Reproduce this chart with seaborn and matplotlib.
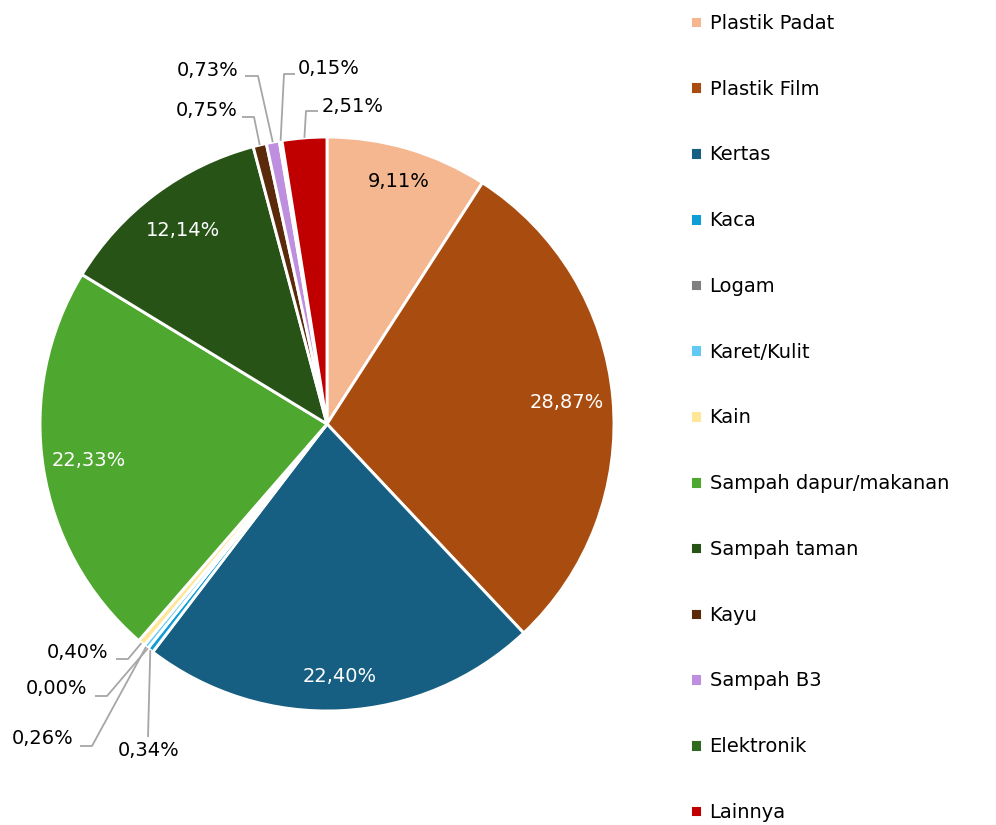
import numpy as np
import matplotlib.pyplot as plt
import seaborn as sns

# Data
categories = ["Plastik Padat", "Plastik Film", "Kertas", "Kaca", "Logam",
              "Karet/Kulit", "Kain", "Sampah dapur/makanan", "Sampah taman",
              "Kayu", "Sampah B3", "Elektronik", "Lainnya"]
shares = [9.11, 28.87, 22.40, 0.34, 0.00, 0.26, 0.40, 22.33, 12.14,
          0.75, 0.73, 0.15, 2.51]
colors = ["#F4B790", "#A94C0F", "#175F82", "#0E9ED5", "#7F7F7F",
          "#60CAF3", "#FFE699", "#4EA72E", "#275317", "#5B2A0A",
          "#BF8FDF", "#2F6A20", "#C00000"]

sns.set_style("white")
plt.rcParams["font.family"] = ["DejaVu Sans"]
plt.rcParams["text.color"] = "black"

W, H = 996, 825
CX, CY, R = 327, 424, 287

fig = plt.figure(figsize=(W / 100, H / 100), dpi=100)
ax = fig.add_axes([(CX - R) / W, (H - CY - R) / H, 2 * R / W, 2 * R / H])

wedges, _ = ax.pie(shares, colors=colors, startangle=90, counterclock=False,
                   wedgeprops=dict(edgecolor="white", linewidth=2.1))
ax.set_xlim(-1, 1)
ax.set_ylim(-1, 1)
ax.axis("off")


def fmt(v):
    return f"{v:.2f}".replace(".", ",") + "%"


def to_pie(px, py):
    return (px - CX) / R, (CY - py) / R


def mid(w):
    a = np.deg2rad((w.theta1 + w.theta2) / 2)
    return np.cos(a), np.sin(a)


# small slices get an outside label with a leader line:
# text pos, line end, elbow (pixels), alignment
outer = {
    "Kayu": ((238, 111), (242, 117), (254, 117), "right"),
    "Sampah B3": ((238, 71), (245, 76), (258, 76), "right"),
    "Elektronik": ((298, 69), (295, 74), (284, 74), "left"),
    "Lainnya": ((322, 106), (318, 111), (306, 111), "left"),
    "Kain": ((108, 653), (116, 659), (128, 659), "right"),
    "Logam": ((87, 688), (95, 696), (107, 696), "right"),
    "Karet/Kulit": ((73, 739), (80, 746), (92, 746), "right"),
    "Kaca": ((149, 750), (148, 737), (148, 737), "center"),
}

inner_r = {"Plastik Padat": 0.88, "Kertas": 0.88}
for w, cat, v in zip(wedges, categories, shares):
    c, s = mid(w)
    if cat in outer:
        tpos, end, elbow, ha = outer[cat]
        pts = [(c, s), to_pie(*elbow), to_pie(*end)]
        xs, ys = zip(*pts)
        ax.plot(xs, ys, color="#A6A6A6", lw=1.3, clip_on=False,
                solid_capstyle="butt")
        tx, ty = to_pie(*tpos)
        ax.text(tx, ty, fmt(v), ha=ha, va="center", fontsize=14,
                color="black", clip_on=False)
    else:
        r = inner_r.get(cat, 0.84)
        ax.text(r * c, r * s, fmt(v), ha="center", va="center", fontsize=14,
                color="black" if cat == "Plastik Padat" else "white")

# legend
leg = fig.legend(wedges, categories, loc="upper left",
                 bbox_to_anchor=(682 / W, 1 - 6 / H), frameon=False,
                 fontsize=14, handlelength=0.62, handleheight=0.62,
                 handletextpad=0.4, labelspacing=2.405, borderaxespad=0)
for t in leg.get_texts():
    t.set_color("black")

plt.savefig("out.png", dpi=100)
